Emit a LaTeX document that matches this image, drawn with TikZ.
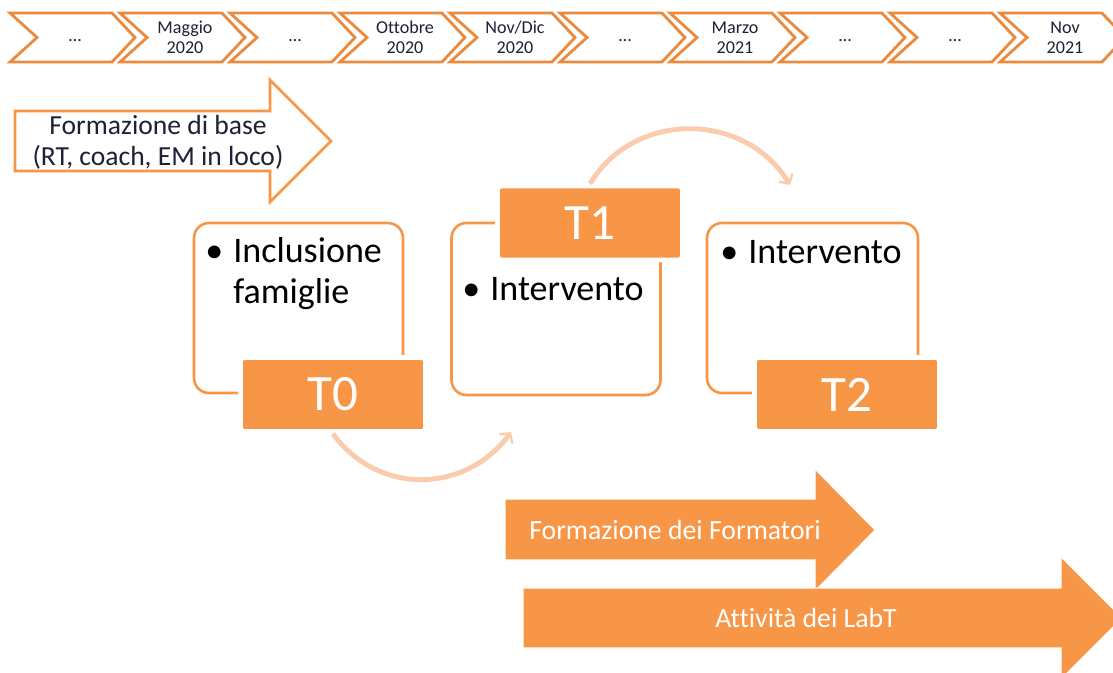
\documentclass[tikz,border=0pt]{standalone}
\usepackage{fontspec}
\setmainfont{Carlito}[Ligatures=NoCommon]
\usepackage{xcolor}
\usetikzlibrary{arrows.meta}

\definecolor{orangefill}{HTML}{F79646}
\definecolor{orangeline}{HTML}{E98A3E}
\definecolor{peach}{HTML}{FACBAD}
\definecolor{navytext}{HTML}{1E2036}

\newcommand{\bulletbox}{\makebox[0.56cm][l]{\textbullet}}
\newcommand{\bulletpad}{\hspace*{0.56cm}}

\tikzset{
  chevron/.style={draw=orangeline, line width=1.6pt, fill=white},
  month/.style={align=center, inner sep=0pt, text=navytext, font=\fontsize{10.3}{11.6}\selectfont},
  outlinearrow/.style={draw=orangefill, line width=1.5pt, fill=white},
  framebox/.style={draw=orangefill, line width=1.5pt, rounded corners=0.3cm, fill=white, minimum width=4.18cm, minimum height=3.4cm},
  tlabel/.style={fill=orangefill, draw=white, line width=2.6pt, rounded corners=0.08cm, text=white, font=\fontsize{29}{32}\selectfont, minimum width=3.7cm, minimum height=1.48cm},
  bullets/.style={align=left, inner sep=0pt, anchor=base west, font=\fontsize{20.5}{23.3}\selectfont},
  solidarrow/.style={fill=orangefill, draw=white, line width=0.6pt},
  arrowlabel/.style={inner sep=0pt, text=white, font=\fontsize{15.8}{18}\selectfont},
  flow/.style={draw=peach, line width=2.8pt, looseness=1.1, -{Straight Barb[length=4pt, width=9pt, line width=1.3pt]}},
}

\begin{document}
\begin{tikzpicture}[x=0.02cm, y=-0.02cm]
    \useasboundingbox (0,0) rectangle (1113,673);

    \foreach \lbl [count=\i from 0] in {{\vphantom{Mg}…}, {Maggio\\2020}, {\vphantom{Mg}…}, {Ottobre\\2020}, {Nov/Dic\\2020}, {\vphantom{Mg}…}, {Marzo\\2021}, {\vphantom{Mg}…}, {\vphantom{Mg}…}, {Nov\\2021}} {
        \draw[chevron] (10+110*\i,13) -- ++(102,0) -- ++(23,24.5) -- ++(-23,24.5) -- ++(-102,0) -- ++(27,-24.5) -- cycle;
        \node[month] (m\i) at (75+110*\i,37.5) {\lbl};
    }

    \draw[outlinearrow] (15,111) -- (270,111) -- (270,80) -- (331,141) -- (270,202) -- (270,171) -- (15,171) -- cycle;
    \node[align=center, inner sep=0pt, text=navytext, font=\fontsize{15.7}{17.6}\selectfont] (base) at (158,142) {Formazione di base\\(RT, coach, EM in loco)};

    \node[framebox] (f0) at (298.5,308) {};
    \node[framebox, minimum height=3.44cm] (f1) at (556,309) {};
    \node[framebox, minimum width=4.22cm] (f2) at (812.5,308) {};

    \node[bullets] (i0) at (205,303.5) {\bulletbox Inclusione\\\bulletpad famiglie};
    \node[bullets] (i1) at (462,300) {\bulletbox Intervento};
    \node[bullets] (i2) at (720,263) {\bulletbox Intervento};

    \node[tlabel] (t0) at (333,394.5) {T0};
    \node[tlabel] (t1) at (590,223) {T1};
    \node[tlabel] (t2) at (847,394.5) {T2};

    \coordinate (t1in) at (511,432);
    \coordinate (t2in) at (790,185);
    \draw[flow] (t0.south) to[out=-54, in=-126] (t1in);
    \draw[flow] (t1.north) to[out=59, in=121] (t2in);

    \draw[solidarrow] (505,499) -- (815,499) -- (815,469) -- (875,530) -- (815,591) -- (815,560) -- (505,560) -- cycle;
    \node[arrowlabel] (trainers) at (675,530) {Formazione dei Formatori};
    \draw[solidarrow] (523,588) -- (1061,588) -- (1061,557) -- (1122,618) -- (1061,679) -- (1061,648) -- (523,648) -- cycle;
    \node[arrowlabel] (labt) at (806,618) {Attività dei LabT};
\end{tikzpicture}
\end{document}
